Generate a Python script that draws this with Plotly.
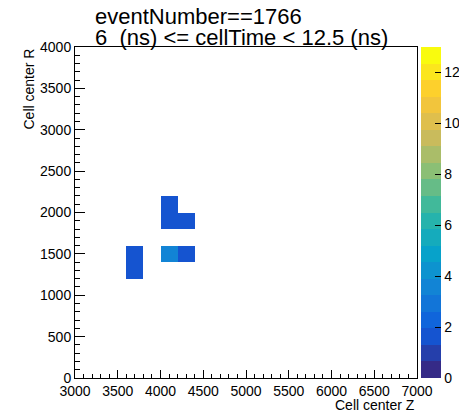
import numpy as np
import plotly.graph_objects as go

# ---- data ----
z_edges_start, z_edges_stop, z_bin = 3000, 7000, 200
r_edges_start, r_edges_stop, r_bin = 0, 4000, 200
cell_z = [3700, 3700, 4100, 4300, 4100, 4100, 4300]
cell_r = [1300, 1500, 1500, 1500, 1900, 2100, 1900]
cell_val = [1.8, 1.8, 3.5, 1.8, 1.8, 1.8, 1.8]
z_min, z_max = 0, 13
x_ticks = [3000, 3500, 4000, 4500, 5000, 5500, 6000, 6500, 7000]
y_ticks = [0, 500, 1000, 1500, 2000, 2500, 3000, 3500, 4000]
title1 = "eventNumber==1766"
title2 = "6  (ns) <= cellTime < 12.5 (ns)"

# grid
xc = np.arange(z_edges_start + z_bin / 2, z_edges_stop, z_bin)
yc = np.arange(r_edges_start + r_bin / 2, r_edges_stop, r_bin)
grid = [[None] * len(xc) for _ in yc]
for zz, rr, v in zip(cell_z, cell_r, cell_val):
    i = int((rr - r_edges_start) // r_bin)
    j = int((zz - z_edges_start) // z_bin)
    grid[i][j] = v

# ROOT kBird palette with 20 contour bands
stops = [0.0, 0.125, 0.25, 0.375, 0.5, 0.625, 0.75, 0.875, 1.0]
red = [0.2082, 0.0592, 0.0780, 0.0232, 0.1802, 0.5301, 0.8186, 0.9956, 0.9764]
green = [0.1664, 0.3599, 0.5041, 0.6419, 0.7178, 0.7492, 0.7328, 0.7862, 0.9832]
blue = [0.5293, 0.8684, 0.8385, 0.7914, 0.6425, 0.4662, 0.3499, 0.1968, 0.0539]
nb = 20
cs = []
for k in range(nb):
    f = k / (nb - 1)
    r = np.interp(f, stops, red); g = np.interp(f, stops, green); b = np.interp(f, stops, blue)
    col = f"rgb({int(round(r*255))},{int(round(g*255))},{int(round(b*255))})"
    cs.append([k / nb, col])
    cs.append([(k + 1) / nb, col])

FONT = "Liberation Sans, Arial, sans-serif"

fig = go.Figure(go.Heatmap(
    x=xc, y=yc, z=grid, zmin=z_min, zmax=z_max, colorscale=cs,
    hoverongaps=False,
    colorbar=dict(
        thickness=20, thicknessmode="pixels", len=1, lenmode="fraction",
        x=(421 - 75) / 342, xanchor="left", y=0.5, yanchor="middle",
        xpad=0, ypad=0, outlinewidth=0,
        ticks="inside", ticklen=6, tickcolor="black", dtick=2, tick0=0,
        tickfont=dict(family=FONT, size=14, color="black"),
    ),
))

fig.update_layout(
    width=459, height=413,
    margin=dict(l=75, r=42, t=47, b=35, autoexpand=False),
    paper_bgcolor="white", plot_bgcolor="white",
    font=dict(family=FONT, size=14, color="black"),
    xaxis=dict(range=[3000, 7000], tickvals=x_ticks, ticks="inside", ticklen=8,
               tickcolor="black", showgrid=False, zeroline=False,
               showline=True, linecolor="black", linewidth=1, mirror=True,
               minor=dict(ticks="inside", dtick=100, ticklen=4, tickcolor="black"),
               tickfont=dict(size=14), automargin=False),
    yaxis=dict(range=[0, 4000], tickvals=y_ticks, ticks="inside", ticklen=10,
               tickcolor="black", showgrid=False, zeroline=False,
               showline=True, linecolor="black", linewidth=1, mirror=True,
               minor=dict(ticks="inside", dtick=100, ticklen=5, tickcolor="black"),
               tickfont=dict(size=14), automargin=False),
    annotations=[
        dict(text=title1, xref="paper", yref="paper", x=(93 - 75) / 342, y=1 + (47 - 16) / 331,
             xanchor="left", yanchor="middle", showarrow=False, font=dict(size=22)),
        dict(text=title2, xref="paper", yref="paper", x=(93 - 75) / 342, y=1 + (47 - 38) / 331,
             xanchor="left", yanchor="middle", showarrow=False, font=dict(size=22)),
        dict(text="Cell center Z", xref="paper", yref="paper", x=1, y=(378 - 405) / 331,
             xanchor="right", yanchor="middle", showarrow=False, font=dict(size=14)),
        dict(text="Cell center R", xref="paper", yref="paper", x=(28 - 75) / 342, y=1,
             xanchor="center", yanchor="top", textangle=-90, showarrow=False, font=dict(size=14)),
    ],
)

fig.write_html("out.html", config={"displayModeBar": False},
               post_script="document.body.style.margin='0px';")
